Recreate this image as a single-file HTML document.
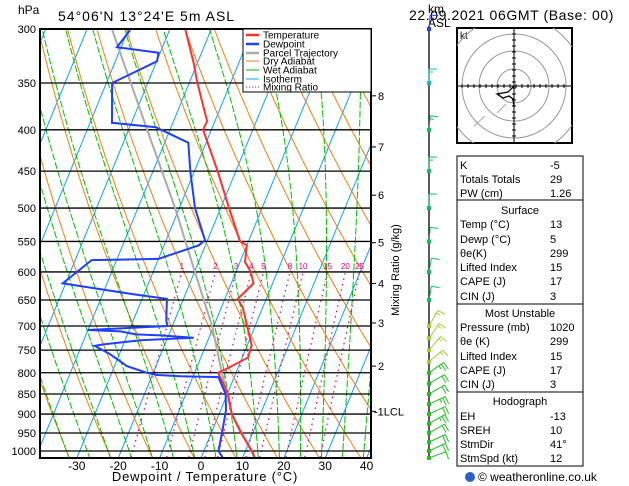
<!DOCTYPE html>
<html><head><meta charset="utf-8"><style>
body{margin:0;background:#fff;}
svg{display:block;font-family:"Liberation Sans",sans-serif;}
</style></head><body>
<svg id="c" width="629" height="486" viewBox="0 0 629 486" xmlns="http://www.w3.org/2000/svg">
<defs><clipPath id="plotclip"><rect x="40" y="29" width="331" height="429"/></clipPath>
<clipPath id="hodoclip"><rect x="457" y="28" width="115" height="115"/></clipPath></defs>
<g id="bg" clip-path="url(#plotclip)"></g>
<g id="plines"></g>
<g id="series" clip-path="url(#plotclip)"></g>
<rect x="40" y="29" width="331" height="429" fill="none" stroke="#000" stroke-width="2"/>
<g id="axes"></g>
<text x="18" y="14" font-size="12">hPa</text>
<text x="58" y="21" font-size="14" letter-spacing="1">54°06'N  13°24'E  5m  ASL</text>
<text x="428" y="13" font-size="12">km</text>
<text x="428" y="27" font-size="12">ASL</text>
<text x="409" y="20" font-size="14" letter-spacing="0.6">22.09.2021  06GMT  (Base: 00)</text>
<text x="205" y="481" font-size="13" letter-spacing="0.8" text-anchor="middle">Dewpoint / Temperature (°C)</text>
<text x="399" y="270" font-size="11" text-anchor="middle" transform="rotate(-90 399 270)">Mixing Ratio (g/kg)</text>
<g>
<rect x="243" y="29" width="128" height="63" fill="#fff" stroke="#000" stroke-width="1"/>
<g font-size="10">
<line x1="246" y1="35" x2="259" y2="35" stroke="#ff3030" stroke-width="2.5"/><text x="263" y="38.5">Temperature</text>
<line x1="246" y1="44" x2="259" y2="44" stroke="#1f3fff" stroke-width="2.5"/><text x="263" y="47.5">Dewpoint</text>
<line x1="246" y1="53" x2="259" y2="53" stroke="#aaa" stroke-width="2.5"/><text x="263" y="56.5">Parcel Trajectory</text>
<line x1="246" y1="61" x2="259" y2="61" stroke="#f08010" stroke-width="1"/><text x="263" y="64.5">Dry Adiabat</text>
<line x1="246" y1="70" x2="259" y2="70" stroke="#00c000" stroke-width="1"/><text x="263" y="73.5">Wet Adiabat</text>
<line x1="246" y1="79" x2="259" y2="79" stroke="#10a0ff" stroke-width="1"/><text x="263" y="82.5">Isotherm</text>
<line x1="246" y1="87" x2="259" y2="87" stroke="#e0007a" stroke-width="1" stroke-dasharray="1 2"/><text x="263" y="90.5">Mixing Ratio</text>
</g></g>
<g id="km"></g>
<g id="wind"></g>
<g id="hodo">
<rect x="457" y="28" width="115" height="115" fill="#fff" stroke="#000" stroke-width="2"/>
<text x="460" y="39" font-size="10">kt</text>
</g>
<g id="table" font-size="11"></g>
<g>
<circle cx="470" cy="477" r="5" fill="#2a5fd0"/>
<text x="478" y="481" font-size="12">© weatheronline.co.uk</text>
</g>
</svg>
<script>
const tempP=[1020,1000,950,900,850,800,790,766,740,708,664,648,620,600,583,556,550,500,450,400,390,350,330,300];
const tempT=[13,11.6,7.2,3.1,0.2,-4.3,-2.5,1.4,1.1,-1.3,-4.8,-6.9,-4.6,-6.4,-8.8,-10,-12,-18,-24.4,-32,-31.9,-38,-41,-46.3];
const dewP=[1020,1000,950,890,850,810,808,805,800,785,758,741,738,729,724,719,717,711,708,700,689,648,639,620,580,578,556,548,500,450,415,397,392,350,329,321,316,301];
const dewT=[5.3,3.5,2.6,1.3,-0.4,-3.8,-13,-18.8,-21.5,-27,-32.4,-36.8,-35,-26.3,-13.7,-22,-28,-32,-40,-21.2,-22,-24,-33,-50.7,-46,-30,-21.6,-20.6,-26.2,-31,-34.3,-43.7,-54.7,-58.6,-49.9,-50.4,-61,-59.5];
const parcelP=[1020,900,800,700,600,500,400,300];
const parcelT=[13,3.1,-3.4,-10.4,-19.9,-31,-45.5,-64];
const pTicks=[300,350,400,450,500,550,600,650,700,750,800,850,900,950,1000];
const tTicks=[-30,-20,-10,0,10,20,30,40];
const mixRatios=[1,2,3,4,5,8,10,15,20,25];
const kmLabels=["8","7","6","5","4","3","2","1LCL"];
const kmP=[363,420,482,552,620,694,785,893];
const barbP=[1020,1000,975,950,925,900,875,850,825,800,775,750,725,700,650,600,550,500,450,400,350,300];
const barbDir=[250,245,245,240,240,245,245,240,240,235,230,220,215,210,190,190,185,180,180,185,180,185];
const barbSpd=[10,20,20,20,25,20,25,20,20,25,15,15,15,15,10,10,10,10,15,15,15,15];

const NS='http://www.w3.org/2000/svg';
function y(p){return 29+350.5*Math.log(p/300);}
function x(T,p){return 201+4.14*T+0.41*(458-y(p));}
function mk(tag,attrs,parent){const e=document.createElementNS(NS,tag);for(const k in attrs)e.setAttribute(k,attrs[k]);parent.appendChild(e);return e;}
const bg=document.getElementById('bg');
function poly(pts,stroke,w,dash,parent){let d='';pts.forEach((q,i)=>{d+=(i?'L':'M')+q[0].toFixed(1)+' '+q[1].toFixed(1);});const a={d:d,fill:'none',stroke:stroke,'stroke-width':w};if(dash)a['stroke-dasharray']=dash;return mk('path',a,parent);}
for(let T=-120;T<=40;T+=10){poly([[x(T,1050),y(1050)],[x(T,290),y(290)]],'#10a0ff',1,null,bg);}
for(let th=230;th<=480;th+=10){const pts=[];for(let p=1050;p>=290;p-=10){pts.push([x(th*Math.pow(p/1000,0.286)-273.15,p),y(p)]);}poly(pts,'#f08010',1,null,bg);}
function es(T){return 6.112*Math.exp(17.67*T/(T+243.5));}
for(let T0=-30;T0<=45;T0+=5){let T=T0+273.15;const pts=[];for(let p=1050;p>=290;p-=5){const tc=T-273.15;pts.push([x(tc,p),y(p)]);const rs=0.622*es(tc)/(p-es(tc));const dT=(287*T+2.5e6*rs)/(1004+2.5e6*2.5e6*rs*0.622/(287*T*T))/p;T-=dT*5;}
poly(pts,'#00c000',1,'7 2',bg);}
const mr=document.createElementNS(NS,'g');bg.appendChild(mr);
mixRatios.forEach(w=>{const pts=[];for(let p=1050;p>=600;p-=10){const e=w*p/(622+w);const l=Math.log(e/6.112);pts.push([x(243.5*l/(17.67-l),p),y(p)]);}poly(pts,'#e0007a',1.2,'1.5 4',mr);
const l=Math.log((w*600/(622+w))/6.112);const t=mk('text',{x:x(243.5*l/(17.67-l),600),y:y(600)-3,'font-size':8,fill:'#e0007a','text-anchor':'middle'},document.getElementById('c'));t.textContent=String(w);});
const pl=document.getElementById('plines'),ax=document.getElementById('axes');
pTicks.forEach(p=>{mk('line',{x1:40,x2:371,y1:y(p),y2:y(p),stroke:'#000','stroke-width':1.3},pl);const t=mk('text',{x:36,y:y(p)+4,'font-size':11,'text-anchor':'end'},ax);t.textContent=String(p);});
tTicks.forEach(T=>{const t=mk('text',{x:201+4.14*T,y:470,'font-size':12,'text-anchor':'middle'},ax);t.textContent=String(T);});
const sr=document.getElementById('series');
function series(P,T,col,w,name){const pts=P.map((p,i)=>[x(T[i],p),y(p)]);const e=poly(pts,col,w,null,sr);}
series(parcelP,parcelT,'#aaaaaa',2,'parcel-line');
series(tempP,tempT,'#ff3030',2,'temperature-line');
series(dewP,dewT,'#1f3fff',2,'dewpoint-line');
const km=document.getElementById('km');
kmP.forEach((p,i)=>{mk('line',{x1:371,x2:376,y1:y(p),y2:y(p),stroke:'#000'},km);const t=mk('text',{x:i==7?374:378,y:y(p)+4,'font-size':11},km);t.textContent=(i==7?'-':'')+kmLabels[i];});
const wg=document.getElementById('wind');
mk('line',{x1:429,x2:429,y1:30,y2:458,stroke:'#000','stroke-width':1.3},wg);
barbP.forEach((p,i)=>{const yy=y(p);const col=p>=800?'#20c020':(p>=700?'#a0d030':(p>=400?'#10c060':(p>=350?'#10c0c0':'#2040ff')));
const a=(barbDir[i]-180)*Math.PI/180;const L=p>=700?18:14;const dx=Math.sin(a),dy=-Math.cos(a);
const ex=429+dx*L,ey=yy+dy*L;mk('line',{x1:429,y1:yy,x2:ex,y2:ey,stroke:col,'stroke-width':1},wg);
let s=barbSpd[i],k=0;while(s>=5){const len=s>=10?8:4;const px=ex-dx*k*3,py=ey-dy*k*3;mk('line',{x1:px,y1:py,x2:px-dy*len,y2:py+dx*len,stroke:col,'stroke-width':1},wg);s-=s>=10?10:5;k++;}
mk('rect',{x:427,y:yy-2,width:4,height:4,fill:col},wg);});
const hg=document.getElementById('hodo');const cx=514,cy=86;
const hc=document.createElementNS(NS,'g');hc.setAttribute('clip-path','url(#hodoclip)');hg.appendChild(hc);
[17,35,52,70].forEach(r=>mk('circle',{cx:cx,cy:cy,r:r,fill:'none',stroke:'#999'},hc));
mk('line',{x1:457,x2:572,y1:cy,y2:cy,stroke:'#000'},hg);mk('line',{x1:cx,x2:cx,y1:28,y2:143,stroke:'#000'},hg);
for(let d=-52;d<=52;d+=6){mk('line',{x1:cx+d,x2:cx+d,y1:cy-2,y2:cy+2,stroke:'#000'},hg);mk('line',{x1:cx-2,x2:cx+2,y1:cy+d,y2:cy+d,stroke:'#000'},hg);}
poly([[514,86],[508,92],[497,94],[503,98],[509,96],[513,99],[514,107]],'#000',1.3,null,hg);
poly([[506,104],[497,113]],'#aaa',1,null,hg);poly([[485,116],[474,126]],'#aaa',1,null,hg);
const tb=document.getElementById('table');
[[156,200],[200,304],[304,392],[392,466]].forEach(b=>mk('rect',{x:457,y:b[0],width:126,height:b[1]-b[0],fill:'#fff',stroke:'#000','stroke-width':1},tb));
const rows=[[165,'K','-5'],[179,'Totals Totals','29'],[193,'PW (cm)','1.26'],[210,'Surface',null],[224,'Temp (°C)','13'],[239,'Dewp (°C)','5'],[253,'θe(K)','299'],[267,'Lifted Index','15'],[281,'CAPE (J)','17'],[296,'CIN (J)','3'],[313,'Most Unstable',null],[327,'Pressure (mb)','1020'],[341,'θe (K)','299'],[356,'Lifted Index','15'],[370,'CAPE (J)','17'],[384,'CIN (J)','3'],[401,'Hodograph',null],[416,'EH','-13'],[430,'SREH','10'],[444,'StmDir','41°'],[458,'StmSpd (kt)','12']];
rows.forEach(r=>{if(r[2]===null){const t=mk('text',{x:520,y:r[0]+4,'text-anchor':'middle'},tb);t.textContent=r[1];}else{const t=mk('text',{x:460,y:r[0]+4},tb);t.textContent=r[1];const v=mk('text',{x:550,y:r[0]+4},tb);v.textContent=r[2];}});
</script>
</body></html>
